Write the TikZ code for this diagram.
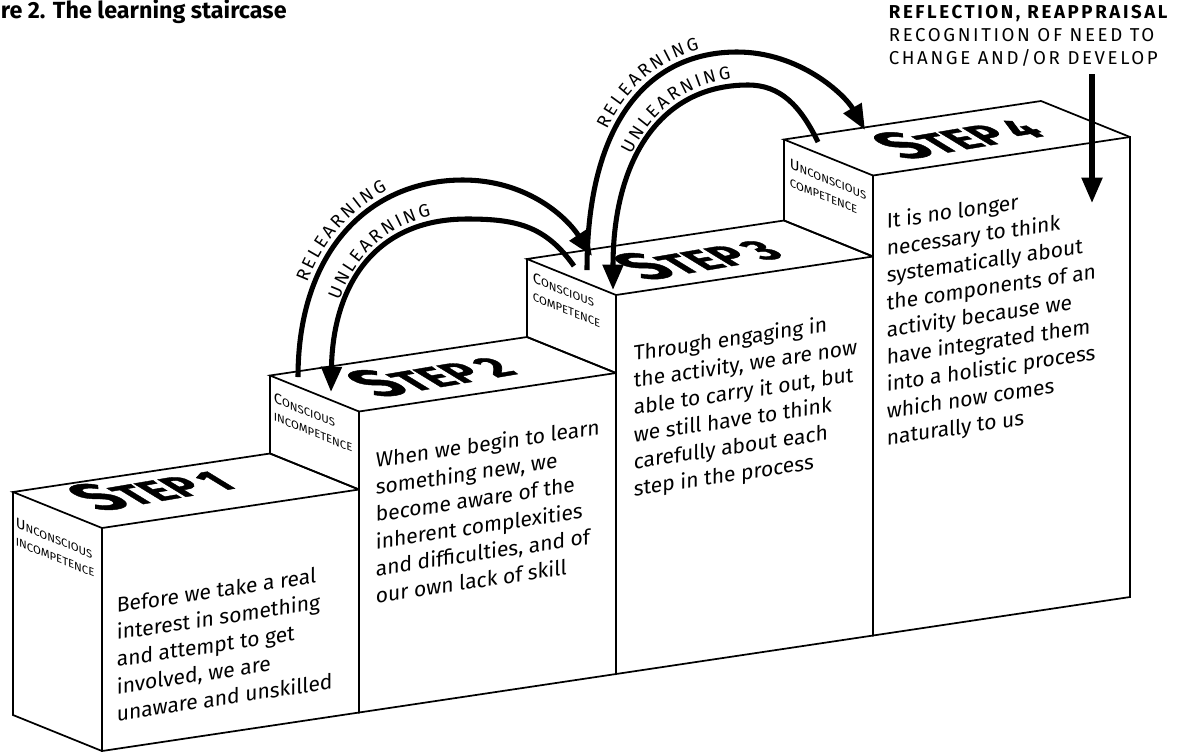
\documentclass[tikz,border=0pt]{standalone}
\usepackage{fontspec}
\setmainfont{Fira Sans}
\newfontfamily\headfont[LetterSpace=14]{Fira Sans}
\newfontfamily\stepfont[BoldFeatures = {FakeBold = 1.2}]{Fira Sans}
\usetikzlibrary{arrows.meta, decorations.text}

\newcommand\Face{\fontsize{15.75}{20.3}\selectfont}
\newcommand\Side{\fontsize{8.5}{13.5}\selectfont}
\newcommand\Head{\headfont\fontsize{14}{17.25}\selectfont}
\newcommand\Arc{\fontsize{13.5}{13.5}\selectfont}
\newcommand\Sp{\kern1.6pt}
\newcommand\Cap[2]{{\fontsize{11}{13.5}\selectfont #1}#2}
% width, font, strut depth, strut height, lines
\newcommand\Lines[5]{\parbox[t]{#1}{#2\everypar{\rule[-#3]{0pt}{#4}}\raggedright #5}}
\newcommand\Steplbl[1]{{\fontsize{46}{46}\selectfont S}{\fontsize{34}{34}\selectfont TEP\,#1}}

\tikzset{
  facetext/.style = {anchor = north west, inner sep = 0, yslant = 0.15},
  sidetext/.style = {anchor = north west, inner sep = 0, yslant = -0.405},
  toptext/.style = {inner sep = 0, font = \stepfont\bfseries, cm = {1, 0.17, -0.9, 0.55, (0,0)}},
  bigarrow/.style = {line width = 3.8pt, -{Triangle[length = 19pt, width = 15pt]}},
  backarrow/.style = {line width = 3.8pt, {Triangle[length = 19pt, width = 15pt]}-},
  arclabel/.style 2 args = {postaction = {decorate, decoration = {text along path, raise = 5pt,
      text align = {left, left indent = #2}, text = {|\Arc|#1}}}}
}

\begin{document}
\begin{tikzpicture}[x = 0.75pt, y = -0.75pt, line width = 1.3pt]
  \useasboundingbox (0,0) rectangle (1180,751);

  \foreach \i/\h/\hp in {0/223/0, 1/301/223, 2/379/301, 3/460/379} {
    \begin{scope}[shift = {(257*\i, -38.5*\i)}]
      \draw (102,751) -- (359,712.5) -- (359,712.5-\h) -- (102,751-\h) -- cycle;
      \draw (102,751-\h) -- (13,715-\h) -- (270,676.5-\h) -- (359,712.5-\h);
      \draw (13,715-\h) -- (13,715-\hp) -- (102,751-\hp);
    \end{scope}
  }

  \node[anchor = base west, inner sep = 0, font = \bfseries\fontsize{17.5}{20}\selectfont] (title) at (0,18) {re 2. The learning staircase};
  \node[anchor = north west, inner sep = 0] (reflect) at (888,1)
    {\Lines{240pt}{\Head}{3.5pt}{16.25pt}{\textbf{REFLECTION, REAPPRAISAL}\\RECOGNITION OF NEED TO\\CHANGE AND/OR DEVELOP}};

  \node[toptext] (step1) at (150,488) {\Steplbl{1}};
  \node[toptext] (step2) at (430,374) {\Steplbl{2}};
  \node[toptext] (step3) at (697,257) {\Steplbl{3}};
  \node[toptext] (step4) at (957,136) {\Steplbl{4}};

  \node[sidetext] (side1) at (15,513) {\Lines{80pt}{\Side}{2.5pt}{12.5pt}{\Cap{U}{NCONSCIOUS}\\INCOMPETENCE}};
  \node[sidetext] (side2) at (273,388) {\Lines{80pt}{\Side}{2.5pt}{12.5pt}{\Cap{C}{ONSCIOUS}\\INCOMPETENCE}};
  \node[sidetext] (side3) at (532,268) {\Lines{80pt}{\Side}{2.5pt}{12.5pt}{\Cap{C}{ONSCIOUS}\\COMPETENCE}};
  \node[sidetext] (side4) at (789,154) {\Lines{80pt}{\Side}{2.5pt}{12.5pt}{\Cap{U}{NCONSCIOUS}\\COMPETENCE}};

  \node[facetext] (face1) at (116,593) {\Lines{240pt}{\Face}{5pt}{19.3pt}{Before we take a real\\interest in something\\and attempt to get\\involved, we are\\unaware and unskilled}};
  \node[facetext] (face2) at (375,448) {\Lines{240pt}{\Face}{5pt}{19.3pt}{When we begin to learn\\something new, we\\become aware of the\\inherent complexities\\and difficulties, and of\\our own lack of skill}};
  \node[facetext] (face3) at (633,341) {\Lines{240pt}{\Face}{5pt}{19.3pt}{Through engaging in\\the activity, we are now\\able to carry it out, but\\we still have to think\\carefully about each\\step in the process}};
  \node[facetext] (face4) at (886,209) {\Lines{240pt}{\Face}{5pt}{19.3pt}{It is no longer\\necessary to think\\systematically about\\the components of an\\activity because we\\have integrated them\\into a holistic process\\which now comes\\naturally to us}};

  \coordinate (r1a) at (298,377); \coordinate (r1b) at (592,256);
  \coordinate (u1a) at (574,266); \coordinate (u1b) at (331,392);
  \coordinate (r2a) at (587,270); \coordinate (r2b) at (865,130);
  \coordinate (u2a) at (818,142); \coordinate (u2b) at (613,290);
  \coordinate (d1) at (1092,74); \coordinate (d2) at (1092,203);

  \draw[bigarrow, arclabel = {{R\Sp}{E\Sp}{L\Sp}{E\Sp}{A\Sp}{R\Sp}{N\Sp}{I\Sp}{N\Sp}G}{70pt}] (r1a) .. controls (298,250) and (370,180) .. (463,180) .. controls (525,180) and (565,215) .. (r1b);
  \draw[backarrow, arclabel = {{U\Sp}{N\Sp}{L\Sp}{E\Sp}{A\Sp}{R\Sp}{N\Sp}{I\Sp}{N\Sp}G}{68pt}] (u1b) .. controls (333,285) and (375,219) .. (467,219) .. controls (515,219) and (545,225) .. (u1a);
  \draw[bigarrow, arclabel = {{R\Sp}{E\Sp}{L\Sp}{E\Sp}{A\Sp}{R\Sp}{N\Sp}{I\Sp}{N\Sp}G}{106pt}] (r2a) .. controls (587,120) and (650,52) .. (737,52) .. controls (800,52) and (845,95) .. (r2b);
  \draw[backarrow, arclabel = {{U\Sp}{N\Sp}{L\Sp}{E\Sp}{A\Sp}{R\Sp}{N\Sp}{I\Sp}{N\Sp}G}{102pt}] (u2b) .. controls (613,160) and (660,85) .. (748,85) .. controls (780,85) and (800,105) .. (u2a);
  \draw[bigarrow] (d1) -- (d2);
\end{tikzpicture}
\end{document}
